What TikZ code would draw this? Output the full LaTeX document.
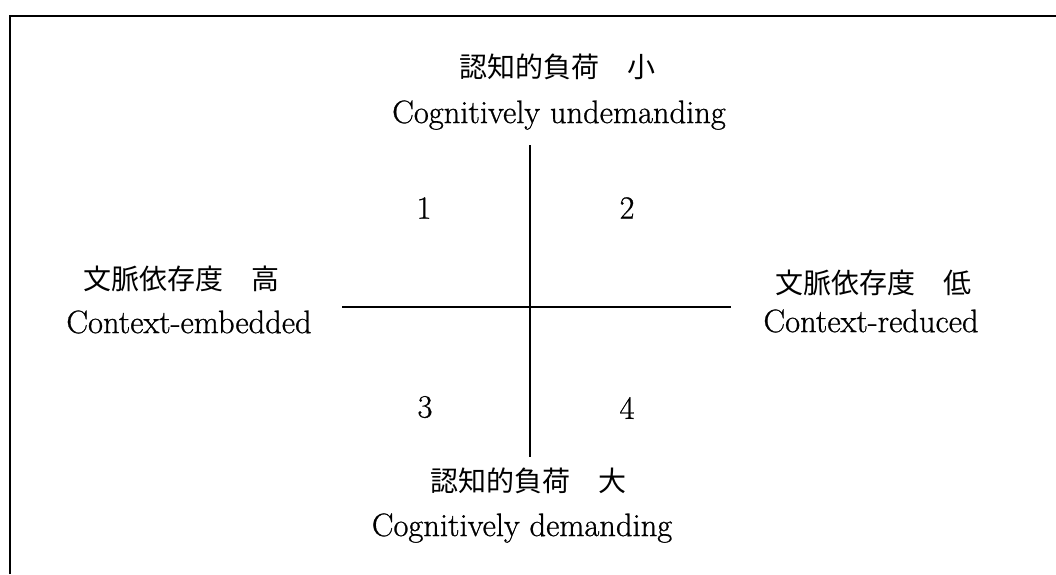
\documentclass[tikz,border=0pt]{standalone}
\usepackage{fontspec}
\newfontfamily\jpfont{Noto Sans CJK JP}
\newfontfamily\enfont{Latin Modern Roman}[FakeBold=0.8]
\usetikzlibrary{positioning}

\begin{document}
\begin{tikzpicture}[
  x=1pt, y=-1pt,
  jp label/.style={font=\jpfont\fontsize{28}{33}\selectfont, anchor=center, inner sep=0pt},
  en label/.style={font=\enfont\fontsize{32.5}{38}\selectfont, anchor=center, inner sep=0pt},
  quadrant/.style={font=\enfont\fontsize{32.5}{38}\selectfont, anchor=center, inner sep=0pt},
  axis/.style={line width=1.8pt},
  frame/.style={line width=2.4pt}
]

\useasboundingbox (0,0) rectangle (1056,574);

% Axis anchors.
\def\axisX{530}
\def\axisY{307}

% -----------------------------------------------------------------------------
% Frame (only the left and top edges are visible).
% -----------------------------------------------------------------------------
\coordinate (frameBottom) at (10,574);
\coordinate (frameCorner) at (10,16);
\coordinate (frameRight) at (1056,16);
\draw[frame] (frameBottom) -- (frameCorner) -- (frameRight);

% -----------------------------------------------------------------------------
% Axes.
% -----------------------------------------------------------------------------
\coordinate (axisTop) at (\axisX,145);
\coordinate (axisBottom) at (\axisX,457);
\coordinate (axisLeft) at (342,\axisY);
\coordinate (axisRight) at (731,\axisY);
\draw[axis] (axisTop) -- (axisBottom);
\draw[axis] (axisLeft) -- (axisRight);

% -----------------------------------------------------------------------------
% Axis labels.
% -----------------------------------------------------------------------------
\node[jp label] (topJp) at (557,67) {認知的負荷　小};
\node[en label] (topEn) at (559,115) {Cognitively undemanding};

\node[jp label] (bottomJp) at (528,481) {認知的負荷　大};
\node[en label] (bottomEn) at (522,528) {Cognitively demanding};

\node[jp label] (leftJp) at (181,279) {文脈依存度　高};
\node[en label] (leftEn) at (189,322) {Context-embedded};

\node[jp label] (rightJp) at (873,283) {文脈依存度　低};
\node[en label] (rightEn) at (871,321) {Context-reduced};

% -----------------------------------------------------------------------------
% Quadrant numbers.
% -----------------------------------------------------------------------------
\node[quadrant] (q1) at (424,208) {1};
\node[quadrant] (q2) at (627,208) {2};
\node[quadrant] (q3) at (425,407) {3};
\node[quadrant] (q4) at (627,408) {4};

\end{tikzpicture}
\end{document}
